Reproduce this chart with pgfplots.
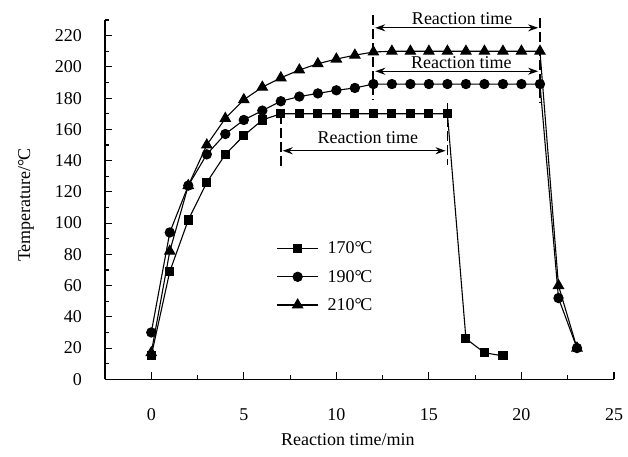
\documentclass[border=0pt]{standalone}
\usepackage{fontspec}
\setmainfont{Liberation Serif}
\usepackage{pgfplots}
\pgfplotsset{compat=1.18}
\usetikzlibrary{arrows.meta}
\newcommand\fs{\fontsize{18}{21.6}\selectfont}
\newcommand\degC{{°\kern-0.08em C}}
\pgfplotstableread{
t T
0 15
1 69
2 102
3 126
4 144
5 156
6 166
7 170
8 170
9 170
10 170
11 170
12 170
13 170
14 170
15 170
16 170
17 26
18 17
19 15
}\dataA
\pgfplotstableread{
t T
0 30
1 94
2 124
3 144
4 157
5 166
6 172
7 178
8 181
9 183
10 185
11 186.5
12 189
13 189
14 189
15 189
16 189
17 189
18 189
19 189
20 189
21 189
22 52
23 20
}\dataB
\pgfplotstableread{
t T
0 17
1 82
2 124
3 150
4 167
5 179
6 187
7 193
8 198
9 202
10 205
11 207.5
12 209.5
13 210
14 210
15 210
16 210
17 210
18 210
19 210
20 210
21 210
22 60
23 20
}\dataC
\begin{document}
\begin{tikzpicture}
\begin{axis}[
  scale only axis,
  width=509pt, height=359.3pt,
  xmin=-2.5, xmax=25, ymin=0, ymax=230,
  axis lines*=left,
  axis line style={line width=1.3pt},
  tick align=inside,
  major tick length=7pt, minor tick length=4pt,
  tick style={line width=1.1pt, black},
  xtick={0,5,...,25}, minor xtick={2.5,7.5,...,22.5},
  ytick={0,20,...,220}, minor ytick={10,30,...,230},
  /pgf/number format/assume math mode=true,
  xticklabel style={font=\fs, anchor=center, inner sep=0pt, yshift=-35pt},
  yticklabel style={font=\fs, anchor=east, inner sep=0pt, xshift=-23pt},
  xlabel={Reaction time/min},
  ylabel={Temperature/\degC},
  xlabel style={font=\fs, at={(rel axis cs:0.477,-0.169)}, anchor=center},
  ylabel style={font=\fs, at={(rel axis cs:-0.155,0.485)}, anchor=center, rotate=0},
  clip=false,
  legend cell align=left,
  legend style={draw=none, fill=none, font=\fs, at={(axis cs:6.76,90)}, anchor=north west,
    inner sep=0pt, row sep=8.7pt, column sep=6pt,
    nodes={inner sep=3pt}},
  legend image code/.code={%
    \draw[#1, mark repeat=2, mark phase=2] plot coordinates {(0pt,0pt) (20.5pt,0pt) (41pt,0pt)};},
  every axis plot/.append style={line width=1.1pt, black, mark options={solid, fill=black}},
]
\addplot[mark=square*, mark size=4pt] table[x=t,y=T] {\dataA};
\addlegendentry{170\degC}
\addplot[mark=*, mark size=4.6pt] table[x=t,y=T] {\dataB};
\addlegendentry{190\degC}
\addplot[mark=triangle*, mark size=5.8pt] table[x=t,y=T] {\dataC};
\addlegendentry{210\degC}
% annotations
\draw[line width=1.8pt, dash pattern=on 10pt off 4pt] (axis cs:7,170) -- (axis cs:7,135.5);
\draw[line width=1.8pt, dash pattern=on 10pt off 4pt] (axis cs:16,177) -- (axis cs:16,137);
\draw[line width=1.8pt, dash pattern=on 10pt off 4pt] (axis cs:12,233) -- (axis cs:12,179);
\draw[line width=1.8pt, dash pattern=on 10pt off 4pt] (axis cs:21,231) -- (axis cs:21,177);
\draw[line width=1.1pt, {Stealth[length=10pt,width=7pt]}-{Stealth[length=10pt,width=7pt]}] (axis cs:12.1,225) -- (axis cs:20.9,225);
\draw[line width=1.1pt, {Stealth[length=10pt,width=7pt]}-{Stealth[length=10pt,width=7pt]}] (axis cs:12.1,197.2) -- (axis cs:20.9,197.2);
\draw[line width=1.1pt, {Stealth[length=10pt,width=7pt]}-{Stealth[length=10pt,width=7pt]}] (axis cs:7.1,146.3) -- (axis cs:15.9,146.3);
\node[font=\fs, inner sep=0pt] at (axis cs:16.8,231) {Reaction time};
\node[font=\fs, inner sep=0pt] at (axis cs:16.75,202.6) {Reaction time};
\node[font=\fs, inner sep=0pt] at (axis cs:11.7,154.5) {Reaction time};
\end{axis}
\pgfresetboundingbox
\path (current axis.south west) ++(-105pt,-76.7pt) rectangle ++(628pt,456pt);
\end{tikzpicture}
\end{document}
